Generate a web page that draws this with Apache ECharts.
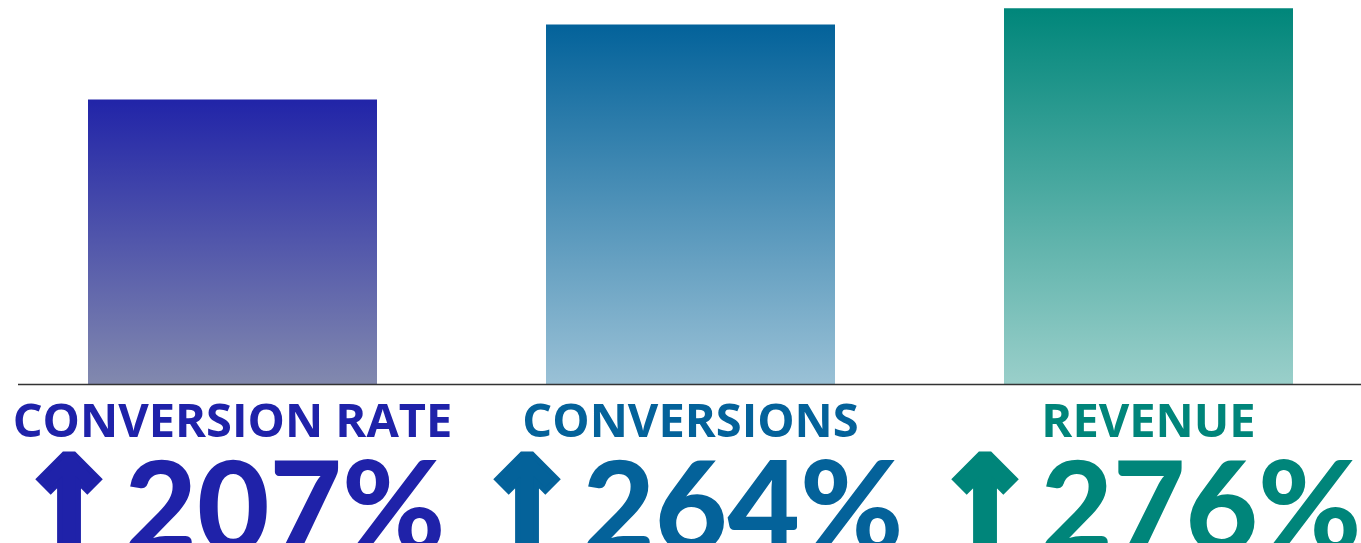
<!DOCTYPE html>
<html>
<head>
<meta charset="utf-8">
<script src="https://cdn.jsdelivr.net/npm/echarts@6/dist/echarts.min.js"></script>
<style>
html,body{margin:0;padding:0;background:#fff;}
#c{width:1361px;height:543px;}
</style>
</head>
<body>
<div id="c"></div>
<script>
const categories = ['CONVERSION RATE', 'CONVERSIONS', 'REVENUE'];
const values = [209, 264, 276];
const valueLabels = ['207%', '264%', '276%'];
const textColors = ['#1f22a9', '#04629a', '#00857a'];
const topColors = ['#2124a8', '#03629a', '#00867a'];
const bottomColors = ['#8289ae', '#9ac1d6', '#9acfca'];

const chart = echarts.init(document.getElementById('c'));

const rich = {};
textColors.forEach((c, i) => {
  rich['n' + i] = {color: c, fontFamily: 'Open Sans', fontWeight: 'bold', fontSize: 47, lineHeight: 56};
  rich['a' + i] = {color: c, fontFamily: 'DejaVu Sans', fontWeight: 'bold', fontSize: 118, lineHeight: 120,
    textBorderColor: c, textBorderWidth: 10, padding: [0, 6, 0, 0]};
  rich['v' + i] = {color: c, fontFamily: 'Lato', fontWeight: 900, fontSize: 125, lineHeight: 120};
});

chart.setOption({
  animation: false,
  grid: {left: 3.5, right: -16.5, top: 0, bottom: 159, outerBoundsMode: 'none', containLabel: false},
  xAxis: {
    type: 'category',
    data: categories,
    axisLine: {show: false},
    axisTick: {show: false},
    axisLabel: {
      interval: 0,
      margin: 12,
      formatter: function (val, idx) {
        return '{n' + idx + '|' + val + '}\n{a' + idx + '|↑}{v' + idx + '|' + valueLabels[idx] + '}';
      },
      rich: rich
    }
  },
  yAxis: {type: 'value', min: 0, max: 282, show: false, splitLine: {show: false}},
  series: [{
    type: 'bar',
    barWidth: 289,
    data: values.map((v, i) => ({
      value: v,
      itemStyle: {
        color: new echarts.graphic.LinearGradient(0, 0, 0, 1, [
          {offset: 0, color: topColors[i]},
          {offset: 1, color: bottomColors[i]}
        ])
      }
    }))
  }],
  graphic: [{
    type: 'line',
    shape: {x1: 18, y1: 384.5, x2: 1361, y2: 384.5},
    style: {stroke: '#333', lineWidth: 1.5},
    z: 10
  }]
});
</script>
</body>
</html>
